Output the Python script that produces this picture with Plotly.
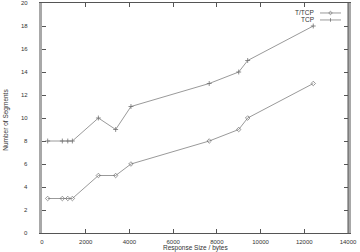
import plotly.graph_objects as go

sizes = [260, 930, 1180, 1390, 2580, 3370, 4070, 7650, 9000, 9410, 12410]
ttcp_segments = [3, 3, 3, 3, 5, 5, 6, 8, 9, 10, 13]
tcp_segments = [8, 8, 8, 8, 10, 9, 11, 13, 14, 15, 18]
series_names = ["T/TCP", "TCP"]
x_ticks = [0, 2000, 4000, 6000, 8000, 10000, 12000, 14000]
y_ticks = [0, 2, 4, 6, 8, 10, 12, 14, 16, 18, 20]
x_title = "Response Size / bytes"
y_title = "Number of Segments"

LINE = "#9a9a9a"
MARK = "#707070"
AX = "#555555"
FONT = "Liberation Sans, Arial, sans-serif"

fig = go.Figure()
fig.add_trace(go.Scatter(x=sizes, y=ttcp_segments, mode="lines+markers", name=series_names[0],
                         line=dict(color=LINE, width=1),
                         marker=dict(symbol="diamond-open", size=3.5, color=MARK, line=dict(width=0.7, color=MARK)),
                         showlegend=False))
fig.add_trace(go.Scatter(x=sizes, y=tcp_segments, mode="lines+markers", name=series_names[1],
                         line=dict(color=LINE, width=1),
                         marker=dict(symbol="cross-thin", size=3.5, color=MARK, line=dict(width=0.8, color=MARK)),
                         showlegend=False))

L, R, T, B = 42, 12, 3, 18.5
W, H = 360, 252
pw, ph = W - L - R, H - T - B

def px(xp):
    return (xp - L) / pw

def py(yp):
    return (H - B - yp) / ph

shapes = []
annotations = []
for i, (name, yy) in enumerate(zip(series_names, [13, 20])):
    annotations.append(dict(x=px(316), y=py(yy), xref="paper", yref="paper", text=name,
                            showarrow=False, xanchor="right", yanchor="middle",
                            font=dict(size=6.5, color="#333", family=FONT)))
    shapes.append(dict(type="line", xref="paper", yref="paper", x0=px(320), x1=px(341),
                       y0=py(yy), y1=py(yy), line=dict(color=LINE, width=1)))
    cx, cy = px(330.5), py(yy)
    dx, dy = 1.8 / pw, 1.8 / ph
    if i == 0:
        shapes.append(dict(type="path", xref="paper", yref="paper",
                           path=f"M {cx-dx} {cy} L {cx} {cy+dy} L {cx+dx} {cy} L {cx} {cy-dy} Z",
                           line=dict(color=MARK, width=0.7)))
    else:
        shapes.append(dict(type="line", xref="paper", yref="paper", x0=cx, x1=cx,
                           y0=cy - dy, y1=cy + dy, line=dict(color=MARK, width=0.8)))

shapes.append(dict(type="line", xref="paper", yref="paper", x0=1, x1=1, y0=0, y1=1,
                   line=dict(color=AX, width=1)))

# y tick labels placed further from the axis, as in the reference
for v in y_ticks:
    annotations.append(dict(x=px(30), y=v, xref="paper", yref="y", text=str(v), showarrow=False,
                            xanchor="right", yanchor="middle",
                            font=dict(size=6, color="#333", family=FONT)))

annotations.append(dict(x=0.5, y=py(249), xref="paper", yref="paper", text=x_title, showarrow=False,
                        xanchor="center", yanchor="middle", font=dict(size=6.5, color="#333", family=FONT)))
annotations.append(dict(x=px(6), y=py(120), xref="paper", yref="paper", text=y_title, showarrow=False,
                        textangle=-90, xanchor="center", yanchor="middle",
                        font=dict(size=6.5, color="#333", family=FONT)))

fig.update_layout(
    width=W, height=H,
    margin=dict(l=L, r=R, t=T, b=B, pad=0),
    plot_bgcolor="white", paper_bgcolor="white",
    font=dict(family=FONT, size=6, color="#333"),
    shapes=shapes, annotations=annotations,
    xaxis=dict(range=[0, 14000], tickvals=x_ticks, ticktext=[str(v) for v in x_ticks],
               ticks="inside", ticklen=4,
               tickcolor=AX, tickwidth=1, showgrid=False, zeroline=False,
               showline=True, linecolor=AX, linewidth=1, mirror="allticks",
               tickfont=dict(size=6, color="#333"), ticklabelstandoff=3),
    yaxis=dict(range=[0, 20], tickvals=y_ticks, showticklabels=False,
               ticks="inside", ticklen=4,
               tickcolor=AX, tickwidth=1, showgrid=False, zeroline=False,
               showline=True, linecolor="#a8a8a8", linewidth=2.5, mirror="ticks"),
)

fig.write_html("out.html")
